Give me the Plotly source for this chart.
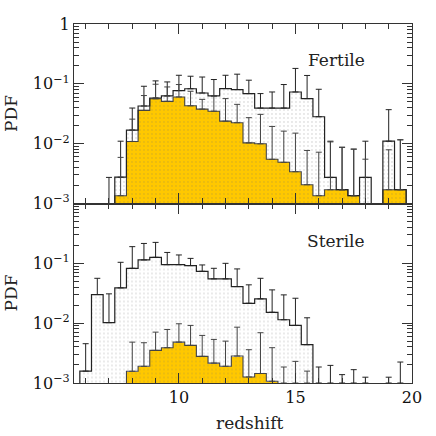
import plotly.graph_objects as go

# ---------------- data ----------------
bins = [6.0, 6.5, 7.0, 7.5, 8.0, 8.5, 9.0, 9.5, 10.0, 10.5, 11.0, 11.5, 12.0, 12.5,
        13.0, 13.5, 14.0, 14.5, 15.0, 15.5, 16.0, 16.5, 17.0, 17.5, 18.0, 18.5, 19.0, 19.5]
bin_width = 0.5

fertile_all = [0, 0, 0, 0.00275, 0.0169, 0.0426, 0.058, 0.0627, 0.077, 0.0828, 0.0703, 0.0627,
               0.0834, 0.0802, 0.0687, 0.0394, 0.0394, 0.0394, 0.0731, 0.0566, 0.0282, 0.00273,
               0.0017, 0.00135, 0.00273, 0, 0.011, 0.0017]
fertile_all_up = [None, None, 0.00273, 0.011, 0.0394, 0.0911, 0.112, 0.1076, 0.139, 0.134, 0.13,
                  0.118, 0.139, 0.145, 0.115, 0.0687, 0.0731, 0.0973, 0.181, 0.138, 0.0811, 0.011,
                  0.0087, 0.0081, 0.011, None, 0.037, 0.0116]
fertile_sub = [0, 0, 0, 0.00135, 0.0109, 0.036, 0.0562, 0.051, 0.0603, 0.0429, 0.0378, 0.0349,
               0.0238, 0.0224, 0.0103, 0.00994, 0.00548, 0.00488, 0.0034, 0.00206, 0.00135, 0.0017,
               0.0017, 0.00135, 0, 0, 0.0017, 0.0017]
fertile_sub_up = [None, None, None, 0.0059, 0.0257, 0.0637, 0.0985, 0.0887, 0.0973, 0.0751, 0.055,
                  0.0627, 0.0566, 0.0454, 0.0272, 0.0309, 0.0194, 0.0162, 0.015, 0.0077, 0.0072,
                  0.0107, 0.0087, 0.0081, 0.0055, None, 0.0079, 0.0116]

sterile_all = [0.00158, 0.0301, 0.0102, 0.0389, 0.0826, 0.114, 0.126, 0.095, 0.095, 0.0917, 0.0736,
               0.055, 0.055, 0.0409, 0.0215, 0.0255, 0.0152, 0.0114, 0.00917, 0.00437, 0, 0, 0, 0,
               0, 0, 0, 0]
sterile_all_up = [0.00454, 0.0562, 0.0309, 0.104, 0.19, 0.215, 0.224, 0.152, 0.138, 0.121, 0.094,
                  0.0826, 0.1, 0.0807, 0.0437, 0.0562, 0.036, 0.0297, 0.0261, 0.0123, 0.00185,
                  0.00197, 0.00138, 0.00167, 0.00125, None, 0.00125, 0.00224]
sterile_sub = [0, 0, 0, 0, 0.00157, 0.0019, 0.00351, 0.00389, 0.00482, 0.00425, 0.00279, 0.00215,
               0.0019, 0.00282, 0.00126, 0.00144, 0.00107, 0, 0, 0, 0, 0, 0, 0, 0, 0, 0, 0]
sterile_sub_up = [None, None, None, None, 0.00482, 0.00471, 0.00708, 0.00785, 0.00977, 0.00917,
                  0.00624, 0.00535, 0.00501, 0.00857, 0.0036, 0.00692, 0.00389, 0.00185, 0.0023,
                  0.00158, None, None, None, None, None, None, None, None]

panel_labels = ["Fertile", "Sterile"]
x_tickvals = [10, 15, 20]
y_tickvals_top = [1e-3, 1e-2, 1e-1, 1]
y_ticktext_top = ["10<sup>\u22123</sup>", "10<sup>\u22122</sup>", "10<sup>\u22121</sup>", "1"]
y_tickvals_bot = [1e-3, 1e-2, 1e-1]
y_ticktext_bot = ["10<sup>\u22123</sup>", "10<sup>\u22122</sup>", "10<sup>\u22121</sup>"]

YMIN, YMAX = 1e-3, 1.0
XMIN, XMAX = 5.5, 20.0

FONT = "DejaVu Serif"
YELLOW = "#FFC800"
EDGE = "#222222"

fig = go.Figure()


def step_xy(vals):
    floor = YMIN * 1e-3
    xs, ys = [bins[0] - bin_width / 2], [floor]
    for c, v in zip(bins, vals):
        vv = v if v > 0 else floor
        xs += [c - bin_width / 2, c + bin_width / 2]
        ys += [vv, vv]
    xs.append(bins[-1] + bin_width / 2)
    ys.append(floor)
    return xs, ys


def add_panel(all_vals, all_up, sub_vals, sub_up, xa, ya):
    # outline histogram fill (dotted)
    fig.add_trace(go.Bar(
        x=bins, y=[v if v > 0 else None for v in all_vals], width=bin_width,
        xaxis=xa, yaxis=ya,
        marker=dict(color="white", line=dict(width=0),
                    pattern=dict(shape=".", fgcolor="#909090", bgcolor="white",
                                 size=4, solidity=0.1)),
        showlegend=False, hoverinfo="skip"))
    # yellow histogram
    fig.add_trace(go.Bar(
        x=bins, y=[v if v > 0 else None for v in sub_vals], width=bin_width,
        xaxis=xa, yaxis=ya,
        marker=dict(color=YELLOW, line=dict(width=0),
                    pattern=dict(shape=".", fgcolor="rgba(120,115,100,0.75)", bgcolor=YELLOW,
                                 size=4, solidity=0.1)),
        showlegend=False, hoverinfo="skip"))
    # step outlines
    xs, ys = step_xy(sub_vals)
    fig.add_trace(go.Scatter(x=xs, y=ys, mode="lines", xaxis=xa, yaxis=ya,
                             line=dict(color="#444444", width=1.1),
                             showlegend=False, hoverinfo="skip"))
    xs, ys = step_xy(all_vals)
    fig.add_trace(go.Scatter(x=xs, y=ys, mode="lines", xaxis=xa, yaxis=ya,
                             line=dict(color=EDGE, width=1.2),
                             showlegend=False, hoverinfo="skip"))
    # upward error bars
    for vals, ups, col in ((all_vals, all_up, "#222222"), (sub_vals, sub_up, "#444444")):
        ex, ey, ea = [], [], []
        for c, v, u in zip(bins, vals, ups):
            if u is None:
                continue
            base = v if v > 0 else YMIN
            ex.append(c)
            ey.append(base)
            ea.append(max(u - base, 0))
        fig.add_trace(go.Scatter(
            x=ex, y=ey, mode="markers", xaxis=xa, yaxis=ya,
            marker=dict(size=1, color="rgba(0,0,0,0)"),
            error_y=dict(type="data", array=ea, arrayminus=[0] * len(ea), symmetric=False,
                         color=col, thickness=1, width=3),
            showlegend=False, hoverinfo="skip"))


add_panel(fertile_all, fertile_all_up, fertile_sub, fertile_sub_up, "x", "y")
add_panel(sterile_all, sterile_all_up, sterile_sub, sterile_sub_up, "x2", "y2")

axis_line = dict(showline=True, mirror="ticks", linecolor="#333333", linewidth=1.3,
                 ticks="inside", tickcolor="#333333", showgrid=False, zeroline=False)

xcommon = dict(range=[XMIN, XMAX], tickvals=x_tickvals, ticklen=10, tickwidth=1.2,
               minor=dict(dtick=1, tick0=0, ticklen=5, ticks="inside", tickcolor="#333333",
                          showgrid=False),
               tickfont=dict(family=FONT, size=16, color="#111111"), **axis_line)

ycommon = dict(type="log", range=[-3, 0], ticklen=10, tickwidth=1.2,
               minor=dict(dtick="D1", ticklen=5, ticks="inside", tickcolor="#333333",
                          showgrid=False),
               tickfont=dict(family=FONT, size=16, color="#111111"), **axis_line)

fig.update_layout(
    width=436, height=436,
    margin=dict(l=74, r=24, t=24, b=53),
    paper_bgcolor="white", plot_bgcolor="white",
    barmode="overlay", bargap=0,
    xaxis=dict(domain=[0, 1], anchor="y", showticklabels=False, **xcommon),
    yaxis=dict(domain=[0.5, 1], anchor="x", tickvals=y_tickvals_top, ticktext=y_ticktext_top,
               **ycommon),
    xaxis2=dict(domain=[0, 1], anchor="y2", matches="x", showticklabels=True, **xcommon),
    yaxis2=dict(domain=[0, 0.5], anchor="x2", tickvals=y_tickvals_bot, ticktext=y_ticktext_bot,
                **ycommon),
    font=dict(family=FONT, color="#111111"),
)

fig.add_annotation(text=panel_labels[0], x=16.75, y=-0.60, xref="x", yref="y",
                   showarrow=False, font=dict(family=FONT, size=17, color="#222222"))
fig.add_annotation(text=panel_labels[1], x=16.75, y=-0.62, xref="x2", yref="y2",
                   showarrow=False, font=dict(family=FONT, size=17, color="#222222"))
for yc in (0.75, 0.25):
    fig.add_annotation(text="PDF", x=-0.186, y=yc, xref="paper", yref="paper",
                       textangle=-90, showarrow=False, xanchor="center", yanchor="middle",
                       font=dict(family=FONT, size=17, color="#222222"))
fig.add_annotation(text="redshift", x=0.52, y=-0.112, xref="paper", yref="paper",
                   showarrow=False, xanchor="center", yanchor="middle",
                   font=dict(family=FONT, size=17, color="#222222"))

fig.write_html("out.html", config={"displayModeBar": False},
               post_script="document.body.style.margin='0';document.body.style.padding='0';")
